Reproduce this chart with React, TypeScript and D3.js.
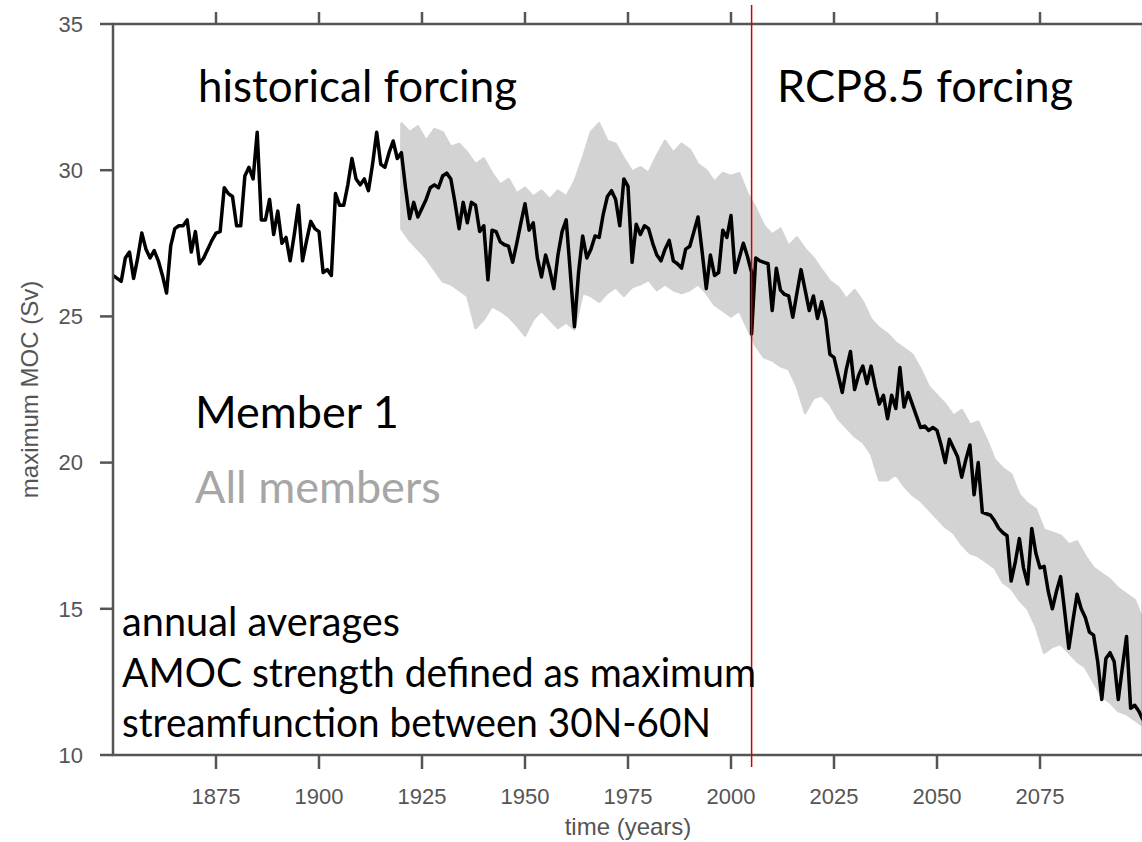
import React from "react";
import * as d3 from "d3";

// ---- data ----
const histStart = 1850;
const histValues = [
  26.4, 26.3, 26.2, 27.0, 27.2, 26.3, 27.0, 27.85, 27.3, 27.0,
  27.25, 26.9, 26.4, 25.8, 27.4, 28.0, 28.1, 28.1, 28.3, 27.2,
  27.9, 26.8, 27.0, 27.3, 27.6, 27.85, 27.9, 29.4, 29.2, 29.1,
  28.1, 28.1, 29.8, 30.1, 29.7, 31.3, 28.3, 28.3, 29.0, 27.8,
  28.6, 27.5, 27.7, 26.9, 27.8, 28.8, 26.9, 27.6, 28.25, 28.0,
  27.9, 26.5, 26.6, 26.4, 29.2, 28.8, 28.8, 29.5, 30.4, 29.7,
  29.5, 29.7, 29.3, 30.2, 31.3, 30.2, 30.1, 30.6, 31.0, 30.4,
  30.6, 29.4, 28.35, 28.9, 28.4, 28.7, 29.0, 29.4, 29.5, 29.4,
  29.8, 29.9, 29.7, 28.9, 28.0, 28.9, 28.2, 28.9, 28.8, 27.9,
  28.1, 26.25, 27.95, 27.9, 27.55, 27.45, 27.4, 26.85, 27.5, 28.2,
  28.85, 27.95, 28.2, 27.0, 26.35, 27.1, 26.6, 25.95, 27.1, 27.9,
  28.3, 26.5, 24.65, 26.5, 27.75, 27.0, 27.3, 27.75, 27.7, 28.5,
  29.1, 29.3, 29.0, 28.1, 29.7, 29.45, 26.85, 28.15, 27.8, 28.1,
  28.0, 27.5, 27.1, 26.9, 27.3, 27.6, 26.9, 26.8, 26.65, 27.3,
  27.4, 27.9, 28.4, 27.2, 25.95, 27.1, 26.4, 26.5, 27.95, 27.7,
  28.45, 26.5, 27.0, 27.5, 27.05, 26.5,
];
const rcpStart = 2005;
const rcpValues = [
  24.4, 27.0, 26.9, 26.85, 26.8, 25.2, 26.65, 25.9, 25.75, 25.7,
  24.97, 25.8, 26.6, 25.9, 25.2, 25.7, 24.93, 25.5, 24.9, 23.7,
  23.6, 23.0, 22.4, 23.2, 23.8, 22.5, 23.0, 23.3, 22.7, 23.3,
  22.6, 22.0, 22.3, 21.5, 22.3, 21.85, 23.25, 21.9, 22.4, 22.0,
  21.6, 21.2, 21.25, 21.1, 21.2, 21.1, 20.6, 20.0, 20.8, 20.5,
  20.2, 19.5, 20.1, 20.6, 18.9, 20.0, 18.3, 18.25, 18.2, 18.0,
  17.75, 17.6, 17.5, 15.95, 16.6, 17.4, 16.4, 15.85, 17.75, 16.9,
  16.4, 16.45, 15.6, 15.0, 15.6, 16.1, 14.9, 13.65, 14.6, 15.5,
  15.0, 14.7, 14.2, 14.1, 13.2, 11.9, 13.3, 13.5, 13.2, 11.9,
  13.0, 14.05, 11.6, 11.7, 11.5, 11.2,
];

// ensemble ("All members") envelope, every 2 years from 1920
const bandStart = 1920;
const bandStep = 2;
const bandUpper = [
  31.6, 31.3, 31.5, 31.0, 31.4, 31.3, 30.8, 30.9, 30.6, 30.2,
  30.4, 29.9, 29.5, 29.7, 29.2, 29.4, 29.1, 29.3, 29.0, 29.3,
  29.1, 29.6, 30.4, 31.3, 31.6, 31.0, 30.9, 30.4, 29.95, 30.1,
  29.9, 30.5, 31.0, 30.6, 30.9, 30.7, 30.2, 30.0, 29.6, 29.9,
  29.8, 29.9, 29.2, 28.7, 28.1, 27.8, 28.0, 27.4, 27.7, 27.3,
  27.0, 26.6, 26.2, 26.0, 25.6, 25.9, 25.5, 24.9, 24.6, 24.4,
  24.1, 23.9, 23.7, 23.2, 22.6, 22.3, 22.0, 21.6, 21.8, 21.3,
  21.4, 20.8, 20.1, 19.8, 19.6, 18.9, 18.6, 18.4, 17.7, 17.6,
  17.5, 17.2, 17.3, 16.8, 16.4, 16.2, 16.0, 15.7, 15.5, 15.3,
  14.6,
];
const bandLower = [
  28.0, 27.6, 27.3, 27.0, 26.6, 26.2, 26.1, 25.9, 25.7, 24.6,
  24.9, 25.35, 25.2, 25.0, 24.7, 24.35, 24.9, 25.2, 24.9, 24.6,
  24.8, 24.55, 25.8, 25.7, 25.5, 25.8, 26.0, 25.7, 26.0, 26.1,
  26.25, 25.9, 26.1, 25.9, 25.8, 25.9, 26.1, 25.8, 25.4, 25.2,
  25.0, 25.2, 24.6, 24.0, 23.6, 23.5, 23.3, 23.2, 22.6, 21.7,
  22.2, 22.3, 22.0, 21.5, 21.2, 20.9, 20.7, 20.3, 19.4, 19.4,
  19.6, 19.2, 18.9, 18.7, 18.4, 18.1, 17.8, 17.6, 17.2, 16.9,
  16.8, 16.6, 16.4, 15.9, 15.7, 15.3, 15.0, 14.4, 13.5, 13.7,
  13.8, 13.5, 13.2, 13.0, 12.5, 12.0, 11.8, 11.5, 11.4, 11.2,
  11.0,
];

const xTicks = [1875, 1900, 1925, 1950, 1975, 2000, 2025, 2050, 2075];
const yTicks = [10, 15, 20, 25, 30, 35];
const forcingSwitchYear = 2005;

// ---- layout ----
const W = 1142;
const H = 842;
const left = 113;
const right = 1143;
const top = 24;
const bottom = 755;

const axisColor = "#555555";
const axisFont = "'Liberation Sans', Arial, sans-serif";
const noteFont = "Lato, 'Open Sans', sans-serif";

export default function App() {
  const x = d3.scaleLinear().domain([1850, 2100]).range([left, right]);
  const y = d3.scaleLinear().domain([10, 35]).range([bottom, top]);

  type P = [number, number];
  const member1: P[] = [
    ...histValues.map((v, i) => [histStart + i, v] as P),
    ...rcpValues.map((v, i) => [rcpStart + i, v] as P),
  ];
  const band = bandUpper.map((u, i) => ({
    yr: bandStart + i * bandStep,
    hi: u,
    lo: bandLower[i],
  }));

  const line = d3
    .line<P>()
    .x((d) => x(d[0]))
    .y((d) => y(d[1]));
  const area = d3
    .area<{ yr: number; hi: number; lo: number }>()
    .x((d) => x(d.yr))
    .y0((d) => y(d.lo))
    .y1((d) => y(d.hi));

  return (
    <svg
      width={W}
      height={H}
      style={{ position: "absolute", left: 0, top: 0, display: "block", background: "#fff" }}
    >
      <defs>
        <clipPath id="plot">
          <rect x={left} y={top} width={right - left} height={bottom - top} />
        </clipPath>
      </defs>
      <rect x={0} y={0} width={W} height={H} fill="#fff" />

      <g clipPath="url(#plot)">
        <path
          d={area(band) || ""}
          fill="#d3d3d3"
          stroke="#d3d3d3"
          strokeWidth={2.5}
          strokeLinejoin="round"
        />
        <path
          d={line(member1) || ""}
          fill="none"
          stroke="#000"
          strokeWidth={3.5}
          strokeLinejoin="round"
        />
      </g>

      {/* frame */}
      <rect
        x={left}
        y={top}
        width={right - left}
        height={bottom - top}
        fill="none"
        stroke={axisColor}
        strokeWidth={2.5}
      />
      {/* x ticks bottom & top */}
      {xTicks.map((t) => (
        <g key={"x" + t}>
          <line x1={x(t)} x2={x(t)} y1={bottom} y2={bottom + 14} stroke={axisColor} strokeWidth={2.5} />
          <line x1={x(t)} x2={x(t)} y1={top} y2={top - 12} stroke={axisColor} strokeWidth={2.5} />
          <text
            x={x(t)}
            y={bottom + 49}
            textAnchor="middle"
            fontFamily={axisFont}
            fontSize={22}
            fill={axisColor}
          >
            {t}
          </text>
        </g>
      ))}
      {/* y ticks */}
      {yTicks.map((t) => (
        <g key={"y" + t}>
          <line x1={left - 13} x2={left} y1={y(t)} y2={y(t)} stroke={axisColor} strokeWidth={2.5} />
          <text
            x={83}
            y={y(t)}
            dy="0.35em"
            textAnchor="end"
            fontFamily={axisFont}
            fontSize={22}
            fill={axisColor}
          >
            {t}
          </text>
        </g>
      ))}
      <text
        x={(left + right) / 2}
        y={835}
        textAnchor="middle"
        fontFamily={axisFont}
        fontSize={24}
        fill={axisColor}
      >
        time (years)
      </text>
      <text
        transform={`translate(38, ${(top + bottom) / 2}) rotate(-90)`}
        textAnchor="middle"
        fontFamily={axisFont}
        fontSize={24}
        fill={axisColor}
      >
        maximum MOC (Sv)
      </text>

      {/* forcing switch */}
      <line
        x1={x(forcingSwitchYear)}
        x2={x(forcingSwitchYear)}
        y1={5}
        y2={767}
        stroke="#d00000"
        strokeWidth={1.5}
      />

      {/* annotations */}
      <g fontFamily={noteFont} fill="#000">
        <text x={198} y={102} fontSize={45} textLength={319} lengthAdjust="spacingAndGlyphs">
          historical forcing
        </text>
        <text x={777} y={102} fontSize={45}>RCP8.5 forcing</text>
        <text x={195} y={428} fontSize={45}>Member 1</text>
        <text x={195} y={503} fontSize={45} fill="#a6a6a6">All members</text>
        <text x={122} y={636} fontSize={40} textLength={278} lengthAdjust="spacingAndGlyphs">
          annual averages
        </text>
        <text x={122} y={687} fontSize={40} textLength={634} lengthAdjust="spacingAndGlyphs">
          AMOC strength defined as maximum
        </text>
        <text x={122} y={737} fontSize={40} textLength={589} lengthAdjust="spacingAndGlyphs">
          streamfunction between 30N-60N
        </text>
      </g>
    </svg>
  );
}
